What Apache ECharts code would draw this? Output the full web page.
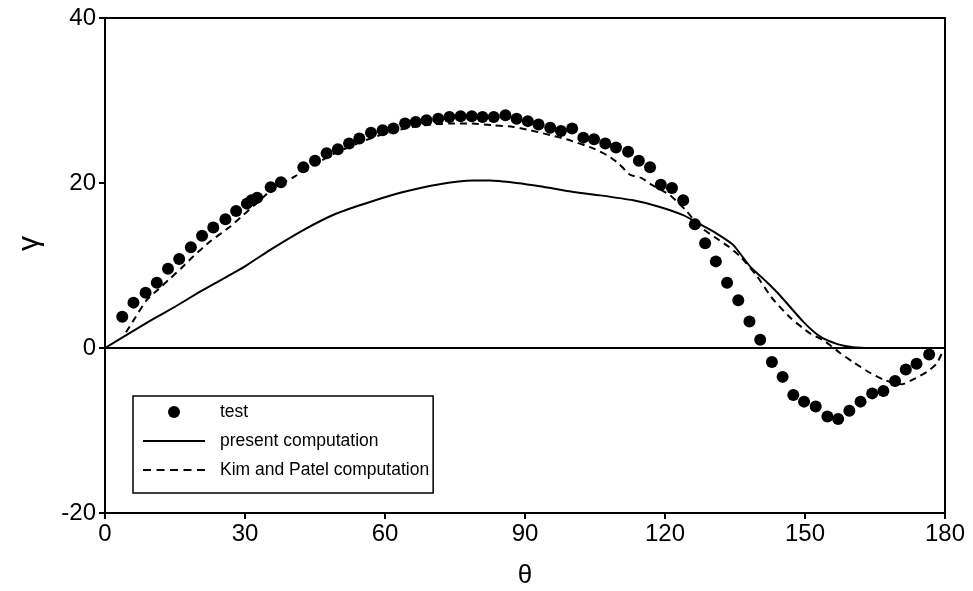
<!DOCTYPE html>
<html>
<head>
<meta charset="utf-8">
<script src="https://cdn.jsdelivr.net/npm/echarts@6/dist/echarts.min.js"></script>
<style>html,body{margin:0;padding:0;background:#fff}#c{width:973px;height:591px}</style>
</head>
<body>
<div id="c"></div>
<script>
// Test data (theta, gamma)
const testTheta = [3.7,6.1,8.7,11.1,13.5,15.9,18.4,20.8,23.2,25.8,28.1,30.4,31.4,32.6,35.5,37.7,42.5,45.0,47.5,49.9,52.3,54.5,57.0,59.5,61.8,64.3,66.6,68.9,71.4,73.8,76.2,78.6,80.9,83.3,85.8,88.2,90.6,92.9,95.4,97.7,100.1,102.5,104.8,107.2,109.5,112.1,114.4,116.8,119.1,121.5,123.9,126.4,128.6,130.9,133.3,135.7,138.1,140.4,142.9,145.2,147.5,149.8,152.3,154.8,157.1,159.5,161.9,164.4,166.8,169.3,171.6,173.9,176.6];
const testGamma = [3.8,5.5,6.7,7.9,9.6,10.8,12.2,13.6,14.6,15.6,16.6,17.5,17.9,18.2,19.5,20.1,21.9,22.7,23.6,24.1,24.8,25.4,26.1,26.4,26.6,27.2,27.4,27.6,27.8,28.0,28.1,28.1,28.0,28.0,28.2,27.8,27.5,27.1,26.7,26.3,26.6,25.5,25.3,24.8,24.3,23.8,22.7,21.9,19.8,19.4,17.9,15.0,12.7,10.5,7.9,5.8,3.2,1.0,-1.7,-3.5,-5.7,-6.5,-7.1,-8.3,-8.6,-7.6,-6.5,-5.5,-5.2,-4.0,-2.6,-1.9,-0.8];

// Present computation
const presentTheta = [0,5,10,15,20,25,30,35.4,42.5,49.6,56.8,63.9,71.1,78.9,82.5,88.2,93.2,100.4,106.1,113.2,118.9,123.9,127.5,131.0,134.6,138.2,141.8,144.6,149.6,153.2,156.8,160.3,164,170,180];
const presentGamma = [0,1.7,3.4,5.0,6.7,8.3,9.9,11.9,14.3,16.3,17.7,18.9,19.8,20.3,20.3,20.0,19.6,18.9,18.5,17.9,17.1,16.1,15.0,13.9,12.5,9.9,8.0,6.4,3.2,1.4,0.5,0.1,0,0,0];

// Kim and Patel computation
const kimTheta = [4.5,6.4,8.9,11.4,13.9,16.4,18.9,22.5,26.8,29.0,32.0,36.0,40.7,45,50,55,60,65,70,73.9,78.6,83.2,87.5,91.1,95.4,98.9,104.6,107.5,110,112.5,115,117.1,121.1,124.6,127.5,131,133.6,136.1,139.6,143,147,151,154.3,157.5,160.3,163.9,167.1,170.7,173.2,176.1,178.2,179.5];
const kimGamma = [1.9,3.6,5.8,7.1,8.4,9.7,11.1,12.9,14.7,15.8,17.3,19.3,20.8,22.3,23.8,25.0,26.0,26.7,27.1,27.2,27.2,27.0,26.8,26.4,25.8,25.3,24.2,23.4,22.4,21.0,20.6,19.8,18.5,16.6,14.7,13.3,12.3,11.1,8.8,6.0,3.6,1.8,0.8,-0.6,-1.7,-3.0,-3.9,-4.4,-3.8,-2.9,-1.9,-0.4];

const xTicks = [0,30,60,90,120,150,180];
const yTicks = [-20,0,20,40];

const zip = (a,b) => a.map((v,i)=>[v,b[i]]);
const FF = 'Liberation Sans, Arial, Helvetica, sans-serif';
const tickFont = {fontFamily:FF, fontSize:24, color:'#000'};
const solidIcon = 'path://M0,0H62V2H0Z';
const dashIcon = 'path://M0,0h8v2h-8z M13.5,0h8v2h-8z M27,0h8v2h-8z M40.5,0h8v2h-8z M54,0h8v2h-8z';

const chart = echarts.init(document.getElementById('c'), null, {renderer:'canvas'});
chart.setOption({
  animation:false,
  backgroundColor:'#fff',
  grid:{left:105,right:28,top:18,bottom:78,outerBoundsMode:'none',containLabel:false,show:true,borderColor:'#000',borderWidth:2,backgroundColor:'transparent'},
  xAxis:{type:'value',min:xTicks[0],max:xTicks[xTicks.length-1],interval:30,
    name:'θ',nameLocation:'middle',nameGap:50,nameTextStyle:{fontFamily:FF,fontSize:26,color:'#000'},
    axisLine:{show:true,onZero:false,lineStyle:{color:'#000',width:2}},
    axisTick:{show:true,inside:false,length:6,lineStyle:{color:'#000',width:2}},
    axisLabel:Object.assign({margin:9},tickFont),
    splitLine:{show:false}},
  yAxis:{type:'value',min:yTicks[0],max:yTicks[yTicks.length-1],interval:20,
    name:'γ',nameLocation:'middle',nameGap:60,nameRotate:90,
    nameTextStyle:{fontFamily:FF,fontSize:30,color:'#000',padding:[0,0,0,44]},
    axisLine:{show:true,lineStyle:{color:'#000',width:2}},
    axisTick:{show:true,inside:false,length:6,lineStyle:{color:'#000',width:2}},
    axisLabel:Object.assign({margin:9},tickFont),
    splitLine:{show:false}},
  legend:{orient:'vertical',left:133,top:396,
    backgroundColor:'#fff',borderColor:'#000',borderWidth:1.5,
    padding:[6,4,13,10],itemGap:9,itemWidth:62,itemHeight:12,
    textStyle:{fontFamily:FF,fontSize:17.5,color:'#000',padding:[0,0,0,10],lineHeight:20},
    data:[{name:'test',icon:'circle'},{name:'present computation',icon:solidIcon},{name:'Kim and Patel computation',icon:dashIcon}]},
  series:[
    {name:'present computation',type:'line',data:zip(presentTheta,presentGamma),showSymbol:false,symbol:'none',smooth:0.2,
     lineStyle:{color:'#000',width:2},itemStyle:{color:'#000'},
     markLine:{silent:true,symbol:'none',label:{show:false},lineStyle:{color:'#000',width:2,type:'solid'},data:[{yAxis:0}]}},
    {name:'Kim and Patel computation',type:'line',data:zip(kimTheta,kimGamma),showSymbol:false,symbol:'none',smooth:0.2,
     lineStyle:{color:'#000',width:2,type:[7,5]},itemStyle:{color:'#000'}},
    {name:'test',type:'scatter',data:zip(testTheta,testGamma),symbol:'circle',symbolSize:12,itemStyle:{color:'#000',opacity:1},z:5}
  ]
});
</script>
</body>
</html>
